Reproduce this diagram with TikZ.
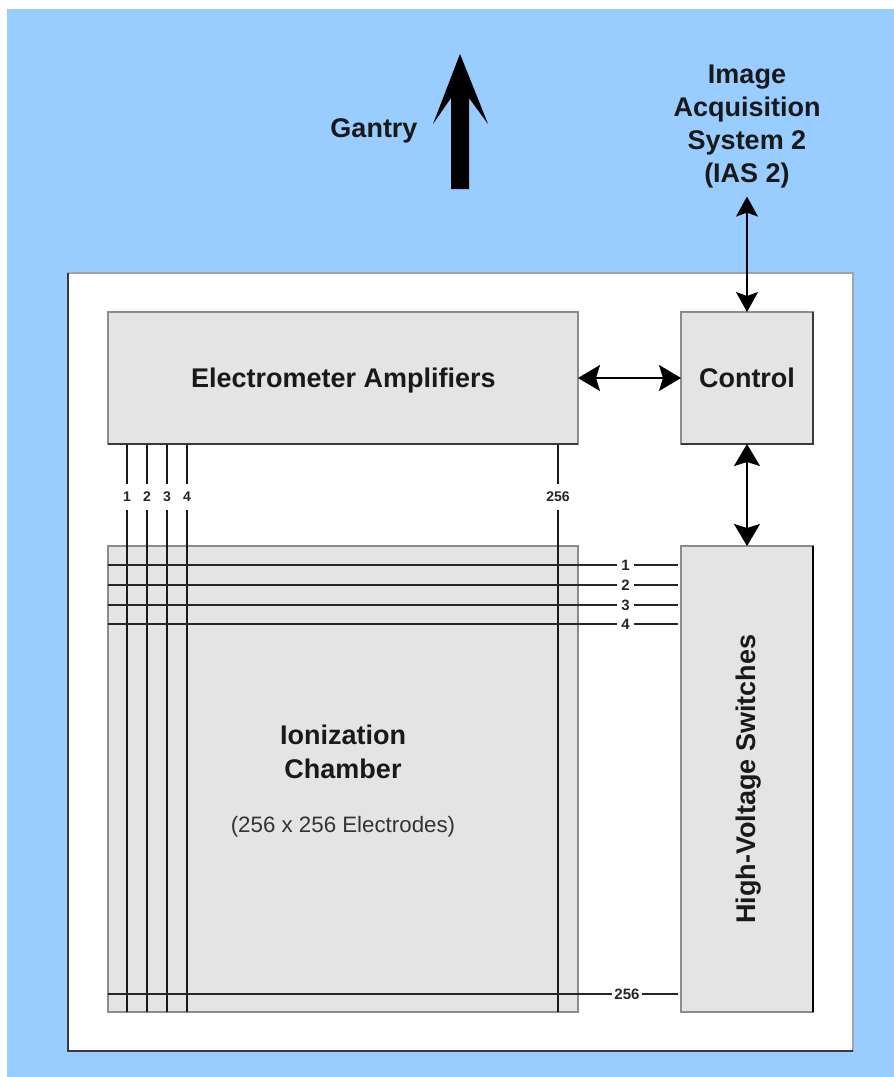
\documentclass[tikz,border=0pt]{standalone}
\usepackage{fontspec}
\setmainfont{Liberation Sans}
\usetikzlibrary{arrows.meta}
\definecolor{bluebg}{HTML}{99CCFF}
\definecolor{boxfill}{HTML}{E4E4E4}
\definecolor{edgegray}{HTML}{8C8C8C}
\definecolor{edgedark}{HTML}{3A3A3A}
\tikzset{
  x=1pt,y=-1pt,
  panel/.style={draw=edgegray,line width=2pt,fill=boxfill,inner sep=0pt,outer sep=0pt,anchor=north west},
  title/.style={font=\fontsize{27}{33}\selectfont\bfseries,align=center,text=black!90,inner sep=0pt},
  wirev/.style={draw=black!90,line width=1.5pt},
  wireh/.style={draw=black!85,line width=1.7pt},
  numv/.style={font=\fontsize{14}{16}\selectfont\bfseries,inner sep=0pt,minimum height=26pt,text=black!85},
  numh/.style={font=\fontsize{15}{17}\selectfont\bfseries,inner sep=0pt,minimum width=17pt,text=black!85},
  biarrow/.style={draw=black,line width=1.7pt,{Stealth[length=22pt,width=26pt,inset=4pt]}-{Stealth[length=22pt,width=26pt,inset=4pt]}},
  biarrowsmall/.style={draw=black,line width=1.5pt,{Stealth[length=20pt,width=22pt,inset=4pt]}-{Stealth[length=20pt,width=22pt,inset=4pt]}},
}
\begin{document}
\begin{tikzpicture}
\useasboundingbox (0,0) rectangle (894,1077);
\fill[white] (0,0) rectangle (894,1077);
\fill[bluebg] (7,9) rectangle (894,1077);
% outer panel
\node[draw=edgegray!80,line width=2pt,fill=white,inner sep=0pt,outer sep=0pt,anchor=north west,minimum width=785pt,minimum height=778pt] (outer) at (68,273) {};
\draw[edgedark,line width=2pt] (outer.north west) -- (outer.south west) -- (outer.south east);
% blocks
\node[panel,minimum width=470pt,minimum height=132pt] (ea) at (108,312) {};
\node[panel,minimum width=132pt,minimum height=132pt] (ctl) at (681,312) {};
\node[panel,minimum width=470pt,minimum height=466pt] (ic) at (108,546) {};
\node[panel,minimum width=132pt,minimum height=466pt] (hv) at (681,546) {};
\draw[edgedark,line width=2pt] (ea.south west) -- (ea.south east);
\draw[edgedark,line width=2pt] (ctl.north east) -- (ctl.south east) -- (ctl.south west);
\draw[black,line width=2pt] (hv.north east) -- (hv.south east);
% titles
\node[title] (eat) at (343.5,381) {Electrometer Amplifiers};
\node[title] (ctlt) at (747,378) {Control};
\node[title,rotate=90] (hvt) at (749,779) {High-Voltage Switches};
\node[title] (ict) at (343,752) {Ionization\\[1pt]Chamber};
\node[font=\fontsize{22.3}{26}\selectfont,inner sep=0pt,text=black!80] (ics) at (343,827) {(256 x 256 Electrodes)};
\node[title] (gt) at (374,131) {Gantry};
\node[title,outer ysep=8pt] (ias) at (747,127) {Image\\Acquisition\\System 2\\(IAS 2)};
% gantry arrow
\fill[black] (460,54) -- (488,124) -- (469,98) -- (469,189) -- (451,189) -- (451,98) -- (433,124) -- cycle;
% bidirectional arrows
\draw[biarrowsmall] (ias.south) -- (ctl.north);
\draw[biarrow] (ea.east) -- (ctl.west);
\draw[biarrow] (ctl.south) -- (hv.north);
% vertical wires
\foreach \n/\x/\t in {1/127/1,2/147/2,3/167/3,4/187/4,5/558/256}{
  \coordinate (vt\n) at (\x,445);
  \coordinate (vb\n) at (\x,1012);
  \node[numv] (vl\n) at (\x,497) {\t};
  \draw[wirev] (vt\n) -- (vl\n) -- (vb\n);
}
% horizontal wires
\foreach \n/\y/\t in {1/565/1,2/585/2,3/605/3,4/624/4}{
  \coordinate (hl\n) at (108,\y);
  \coordinate (hr\n) at (678,\y);
  \node[numh] (hn\n) at (625.5,\y) {\t};
  \draw[wireh] (hl\n) -- (hn\n) -- (hr\n);
}
\coordinate (hl5) at (108,994);
\coordinate (hr5) at (678,994);
\node[numh,minimum width=29pt] (hn5) at (627,994) {256};
\draw[wireh] (hl5) -- (hn5) -- (hr5);
\end{tikzpicture}
\end{document}
